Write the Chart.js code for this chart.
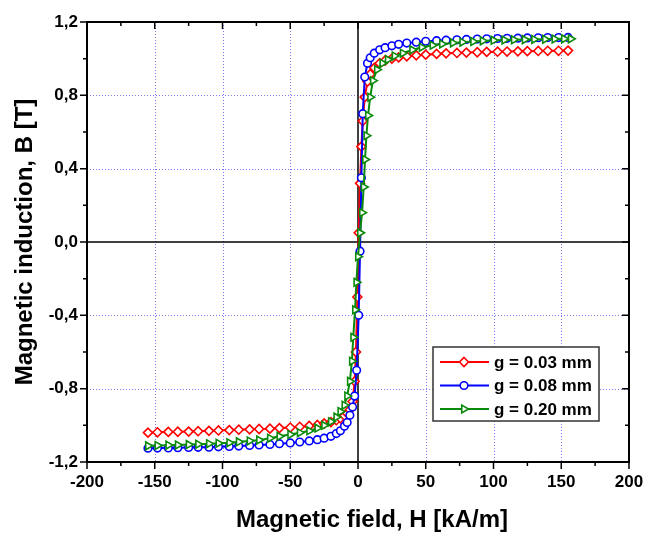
<!DOCTYPE html>
<html>
<head>
<meta charset="utf-8">
<title>Magnetic induction vs field</title>
<script src="https://cdn.jsdelivr.net/npm/chart.js@4.4.0/dist/chart.umd.min.js"></script>
<style>
html, body { margin: 0; padding: 0; background: #fff; }
#chart-wrap { width: 661px; height: 534px; position: relative; }
</style>
</head>
<body>
<div id="chart-wrap"><canvas id="chart-bh"></canvas></div>
<script>
var labels = ['g = 0.03 mm', 'g = 0.08 mm', 'g = 0.20 mm'];
var tituloX = 'Magnetic field, H [kA/m]';
var tituloY = 'Magnetic induction, B [T]';

var hRed = [-155,-148,-140,-133,-125,-118,-110,-103,-95,-88,-80,-73,-65,-58,-50,-43,-36,-30,-25,-20,-16,-13,-10,-8,-6,-4,-2.5,-1.5,-0.5,0.5,1.5,2.5,3.5,5,7,9,12,16,20,25,30,36,43,50,58,65,73,80,88,95,103,110,118,125,133,140,148,155];
var bRed = [-1.04,-1.038,-1.036,-1.035,-1.034,-1.032,-1.03,-1.028,-1.026,-1.024,-1.022,-1.02,-1.018,-1.015,-1.012,-1.008,-1.003,-0.998,-0.99,-0.982,-0.972,-0.962,-0.948,-0.935,-0.915,-0.87,-0.76,-0.6,-0.3,0.05,0.32,0.52,0.66,0.79,0.875,0.915,0.95,0.975,0.99,1.0,1.007,1.013,1.018,1.022,1.026,1.029,1.031,1.033,1.035,1.037,1.038,1.039,1.04,1.041,1.042,1.043,1.043,1.044];

var hBlue = [-155,-148,-140,-133,-125,-118,-110,-103,-95,-88,-80,-73,-65,-58,-50,-43,-36,-30,-25,-20,-16,-13,-10,-8,-6,-4,-2.5,-1,0.5,1.5,2.5,3.5,5,7,9,12,16,20,25,30,36,43,50,58,65,73,80,88,95,103,110,118,125,133,140,148,155];
var bBlue = [-1.125,-1.124,-1.123,-1.122,-1.121,-1.12,-1.119,-1.117,-1.115,-1.113,-1.11,-1.107,-1.104,-1.1,-1.096,-1.091,-1.085,-1.078,-1.07,-1.06,-1.045,-1.03,-1.005,-0.985,-0.945,-0.9,-0.84,-0.7,-0.4,-0.05,0.35,0.7,0.9,0.975,1.005,1.03,1.048,1.06,1.07,1.078,1.085,1.09,1.095,1.098,1.101,1.103,1.105,1.107,1.108,1.11,1.111,1.112,1.113,1.114,1.115,1.115,1.116];

var hGreen = [-155,-148,-140,-133,-125,-118,-110,-103,-95,-88,-80,-73,-65,-58,-50,-43,-36,-30,-25,-20,-16,-13,-10,-8,-6,-4.5,-3.5,-2.2,-1.2,0,1.5,3,4.2,5.2,6.2,7.4,9,11,14,18,22,27,33,40,47,55,62,70,77,85,92,100,108,115,123,130,138,145,152,157];
var bGreen = [-1.112,-1.11,-1.108,-1.107,-1.105,-1.103,-1.1,-1.098,-1.095,-1.09,-1.085,-1.08,-1.07,-1.06,-1.05,-1.04,-1.03,-1.015,-1.0,-0.98,-0.955,-0.925,-0.89,-0.84,-0.76,-0.65,-0.52,-0.37,-0.22,-0.08,0.05,0.16,0.3,0.45,0.58,0.69,0.79,0.88,0.94,0.975,0.995,1.015,1.03,1.048,1.062,1.073,1.08,1.086,1.09,1.094,1.097,1.1,1.102,1.103,1.104,1.105,1.106,1.107,1.108,1.108];

var xMajor = [-200,-150,-100,-50,0,50,100,150,200];
var yMajor = [-1.2,-0.8,-0.4,0,0.4,0.8,1.2];

var FONT = '"Liberation Sans", Arial, sans-serif';

function pares(hs, bs) {
    var out = [];
    for (var i = 0; i < hs.length; i++) {
        out.push({ x: hs[i], y: bs[i] });
    }
    return out;
}

function serie(label, hs, bs, cor, estilo, rot, ordem) {
    return {
        label: label,
        data: pares(hs, bs),
        showLine: true,
        borderColor: cor,
        backgroundColor: cor,
        borderWidth: 2,
        pointStyle: estilo,
        pointRotation: rot,
        pointRadius: estilo == 'circle' ? 3.8 : 4.5,
        pointBorderWidth: 1.6,
        pointBorderColor: cor,
        pointBackgroundColor: '#fff',
        order: ordem
    };
}

// small marker painter for the legend
function marcador(ctx, estilo, rot, r, x, y, cor) {
    ctx.save();
    ctx.translate(x, y);
    ctx.rotate(rot * Math.PI / 180);
    ctx.beginPath();
    if (estilo == 'circle') {
        ctx.arc(0, 0, r, 0, Math.PI * 2);
    } else if (estilo == 'rectRot') {
        ctx.moveTo(0, -r); ctx.lineTo(r, 0); ctx.lineTo(0, r); ctx.lineTo(-r, 0);
    } else {
        ctx.moveTo(0, -r); ctx.lineTo(r * 0.87, r * 0.5); ctx.lineTo(-r * 0.87, r * 0.5);
    }
    ctx.closePath();
    ctx.fillStyle = '#fff';
    ctx.fill();
    ctx.lineWidth = 1.6;
    ctx.strokeStyle = cor;
    ctx.stroke();
    ctx.restore();
}

var gradePlugin = {
    id: 'grade',
    beforeDatasetsDraw: function (chart) {
        var ctx = chart.ctx, a = chart.chartArea,
            sx = chart.scales.x, sy = chart.scales.y, i, p;
        ctx.save();
        ctx.strokeStyle = '#7a7af0';
        ctx.lineWidth = 1;
        ctx.setLineDash([1, 2]);
        for (i = 1; i < xMajor.length - 1; i++) {
            if (xMajor[i] == 0) continue;
            p = Math.round(sx.getPixelForValue(xMajor[i])) + 0.5;
            ctx.beginPath(); ctx.moveTo(p, a.top); ctx.lineTo(p, a.bottom); ctx.stroke();
        }
        for (i = 1; i < yMajor.length - 1; i++) {
            if (yMajor[i] == 0) continue;
            p = Math.round(sy.getPixelForValue(yMajor[i])) + 0.5;
            ctx.beginPath(); ctx.moveTo(a.left, p); ctx.lineTo(a.right, p); ctx.stroke();
        }
        ctx.setLineDash([]);
        ctx.strokeStyle = '#000';
        ctx.lineWidth = 1.5;
        p = sx.getPixelForValue(0);
        ctx.beginPath(); ctx.moveTo(p, a.top); ctx.lineTo(p, a.bottom); ctx.stroke();
        p = sy.getPixelForValue(0);
        ctx.beginPath(); ctx.moveTo(a.left, p); ctx.lineTo(a.right, p); ctx.stroke();
        ctx.restore();
    },
    afterDraw: function (chart) {
        var ctx = chart.ctx, a = chart.chartArea,
            sx = chart.scales.x, sy = chart.scales.y, v, p, len;
        ctx.save();
        ctx.strokeStyle = '#000';
        ctx.lineWidth = 2;
        ctx.strokeRect(a.left, a.top, a.right - a.left, a.bottom - a.top);
        ctx.lineWidth = 1.5;
        for (v = -200; v <= 200; v += 25) {
            p = sx.getPixelForValue(v);
            len = (v % 50 == 0) ? 7 : 4;
            ctx.beginPath();
            ctx.moveTo(p, a.bottom); ctx.lineTo(p, a.bottom + len);
            ctx.moveTo(p, a.top); ctx.lineTo(p, a.top + len);
            ctx.stroke();
        }
        for (v = -6; v <= 6; v++) {
            p = sy.getPixelForValue(v * 0.2);
            len = (v % 2 == 0) ? 7 : 4;
            ctx.beginPath();
            ctx.moveTo(a.left, p); ctx.lineTo(a.left - len, p);
            ctx.moveTo(a.right, p); ctx.lineTo(a.right - len, p);
            ctx.stroke();
        }

        // axis titles
        ctx.fillStyle = '#000';
        ctx.font = 'bold 24px ' + FONT;
        ctx.textAlign = 'center';
        ctx.textBaseline = 'middle';
        ctx.fillText(tituloX, 372, 520);
        ctx.save();
        ctx.translate(25, (a.top + a.bottom) / 2);
        ctx.rotate(-Math.PI / 2);
        ctx.fillText(tituloY, 0, 0);
        ctx.restore();

        // legend box
        var lx = 433, ly = 347, lw = 166, lh = 74;
        ctx.fillStyle = '#fff';
        ctx.fillRect(lx, ly, lw, lh);
        ctx.strokeStyle = '#333';
        ctx.lineWidth = 1.5;
        ctx.strokeRect(lx, ly, lw, lh);
        ctx.font = 'bold 17px ' + FONT;
        ctx.textAlign = 'left';
        ctx.textBaseline = 'middle';
        chart.data.datasets.forEach(function (ds, i) {
            var yy = ly + 15 + i * 23.5;
            ctx.strokeStyle = ds.borderColor;
            ctx.lineWidth = 2;
            ctx.beginPath(); ctx.moveTo(lx + 7, yy); ctx.lineTo(lx + 56, yy); ctx.stroke();
            marcador(ctx, ds.pointStyle, ds.pointRotation, ds.pointRadius, lx + 31, yy, ds.borderColor);
            ctx.fillStyle = '#000';
            ctx.fillText(ds.label, lx + 61, yy + 1);
        });
        ctx.restore();
    }
};

var config = {
    type: 'scatter',
    data: {
        datasets: [
            serie(labels[0], hRed, bRed, '#ff0000', 'rectRot', 0, 3),
            serie(labels[1], hBlue, bBlue, '#0000ff', 'circle', 0, 2),
            serie(labels[2], hGreen, bGreen, '#0a8a0a', 'triangle', 90, 1)
        ]
    },
    options: {
        responsive: true,
        maintainAspectRatio: false,
        animation: false,
        layout: { padding: { left: 0, right: 32, top: 22, bottom: 0 } },
        plugins: {
            legend: { display: false },
            tooltip: { enabled: false }
        },
        scales: {
            x: {
                type: 'linear',
                min: -200,
                max: 200,
                grid: { display: false, drawTicks: false },
                border: { display: false },
                ticks: {
                    stepSize: 50,
                    padding: 10,
                    color: '#000',
                    font: { family: FONT, size: 17, weight: 'bold' }
                },
                afterFit: function (scale) { scale.height = 72; }
            },
            y: {
                type: 'linear',
                min: -1.2,
                max: 1.2,
                grid: { display: false, drawTicks: false },
                border: { display: false },
                ticks: {
                    stepSize: 0.4,
                    padding: 9,
                    color: '#000',
                    font: { family: FONT, size: 17, weight: 'bold' },
                    callback: function (v) {
                        if (Math.abs(v) < 1e-9) return '0,0';
                        return v.toFixed(1).replace('.', ',');
                    }
                },
                afterFit: function (scale) { scale.width = 87; }
            }
        }
    },
    plugins: [gradePlugin]
};

var grafico = new Chart(document.getElementById('chart-bh').getContext('2d'), config);
</script>
</body>
</html>
